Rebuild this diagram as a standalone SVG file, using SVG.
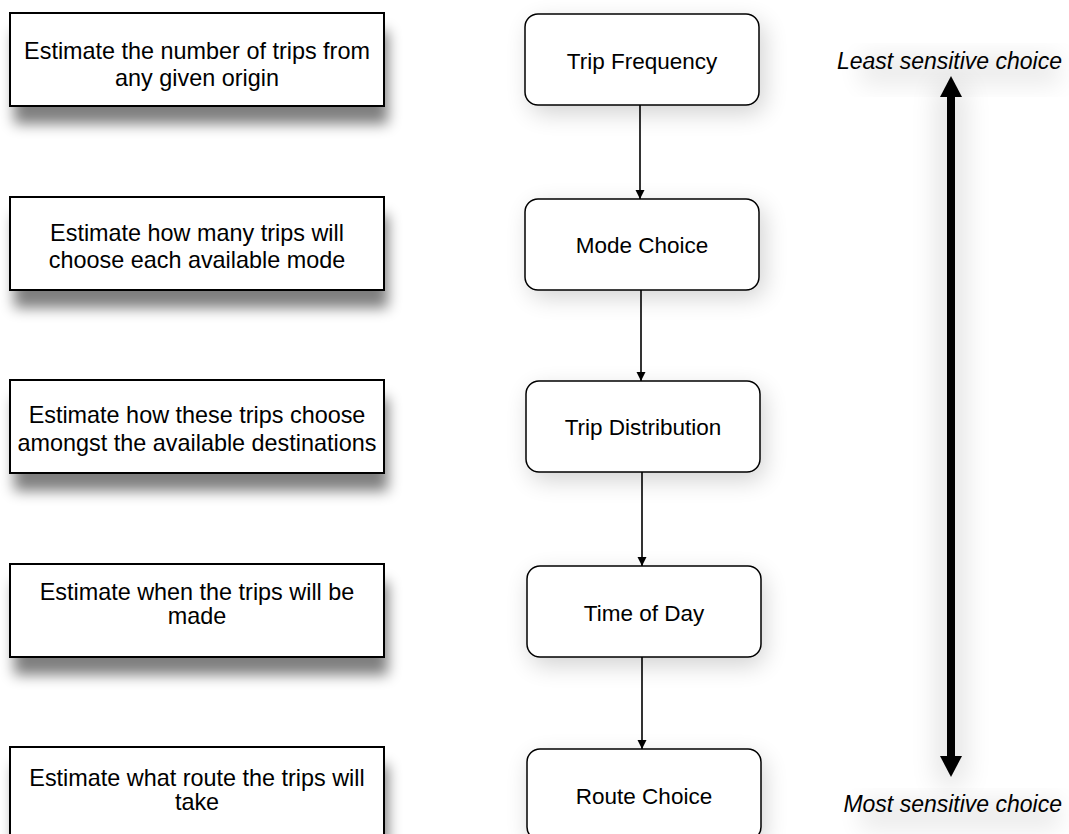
<svg xmlns="http://www.w3.org/2000/svg" width="1069" height="834" viewBox="0 0 1069 834">
<defs>
<style>
.lbox{fill:#fff;stroke:#000;stroke-width:2}
.rbox{fill:#fff;stroke:#000;stroke-width:1.5}
.lt{font-family:"Liberation Sans",Arial,sans-serif;font-size:23.4px;fill:#000;text-anchor:middle}
.rt{font-family:"Liberation Sans",Arial,sans-serif;font-size:22.5px;fill:#000;text-anchor:middle}
.it{font-family:"Liberation Sans",Arial,sans-serif;font-size:23px;font-style:italic;fill:#000;text-anchor:end}
.con{stroke:#000;stroke-width:1.6;fill:none;marker-end:url(#ah)}
</style>
<filter id="lsh" x="-20%" y="-30%" width="140%" height="180%">
<feGaussianBlur stdDeviation="7"/>
</filter>
<filter id="rsh" x="-30%" y="-40%" width="160%" height="180%">
<feGaussianBlur stdDeviation="12"/>
</filter>
<filter id="ash" x="-300%" y="-10%" width="700%" height="120%">
<feGaussianBlur stdDeviation="14"/>
</filter>
<marker id="ah" markerWidth="9" markerHeight="11" refX="9" refY="4.5" orient="auto" markerUnits="userSpaceOnUse" viewBox="0 0 9 9">
<path d="M0,0 L9,4.5 L0,9 Z" fill="#000"/>
</marker>
</defs>
<rect width="1069" height="834" fill="#fff"/>

<g id="shadows">
<rect x="14" y="31" width="374" height="93" fill="#000" opacity="0.5" filter="url(#lsh)"/>
<rect x="14" y="215" width="374" height="93" fill="#000" opacity="0.5" filter="url(#lsh)"/>
<rect x="14" y="398" width="374" height="93" fill="#000" opacity="0.5" filter="url(#lsh)"/>
<rect x="14" y="582" width="374" height="93" fill="#000" opacity="0.5" filter="url(#lsh)"/>
<rect x="14" y="765" width="374" height="93" fill="#000" opacity="0.5" filter="url(#lsh)"/>
<rect x="530" y="22" width="234" height="91" rx="13" fill="#000" opacity="0.18" filter="url(#rsh)"/>
<rect x="530" y="206" width="234" height="91" rx="13" fill="#000" opacity="0.18" filter="url(#rsh)"/>
<rect x="530" y="389" width="234" height="91" rx="13" fill="#000" opacity="0.18" filter="url(#rsh)"/>
<rect x="530" y="574" width="234" height="91" rx="13" fill="#000" opacity="0.18" filter="url(#rsh)"/>
<rect x="530" y="757" width="234" height="91" rx="13" fill="#000" opacity="0.18" filter="url(#rsh)"/>
<rect x="938" y="85" width="26" height="700" fill="#000" opacity="0.12" filter="url(#ash)"/>
<rect x="860" y="55" width="200" height="30" fill="#000" opacity="0.08" filter="url(#rsh)"/>
<rect x="860" y="800" width="200" height="30" fill="#000" opacity="0.08" filter="url(#rsh)"/>
</g>

<g id="desc1">
<rect class="lbox" x="10" y="13" width="374" height="93"/>
<text class="lt" x="197" y="59">Estimate the number of trips from</text>
<text class="lt" x="197" y="86">any given origin</text>
</g>
<g id="desc2">
<rect class="lbox" x="10" y="197" width="374" height="93"/>
<text class="lt" x="197" y="241">Estimate how many trips will</text>
<text class="lt" x="197" y="268">choose each available mode</text>
</g>
<g id="desc3">
<rect class="lbox" x="10" y="380" width="374" height="93"/>
<text class="lt" x="197" y="423">Estimate how these trips choose</text>
<text class="lt" x="197" y="450.5">amongst the available destinations</text>
</g>
<g id="desc4">
<rect class="lbox" x="10" y="564" width="374" height="93"/>
<text class="lt" x="197" y="600">Estimate when the trips will be</text>
<text class="lt" x="197" y="624">made</text>
</g>
<g id="desc5">
<rect class="lbox" x="10" y="747" width="374" height="93"/>
<text class="lt" x="197" y="786">Estimate what route the trips will</text>
<text class="lt" x="197" y="810">take</text>
</g>

<g id="tripFrequency">
<rect class="rbox" x="525" y="14" width="234" height="91" rx="13"/>
<text class="rt" x="642" y="69">Trip Frequency</text>
</g>
<g id="modeChoice">
<rect class="rbox" x="525" y="199" width="234" height="91" rx="13"/>
<text class="rt" x="642" y="253">Mode Choice</text>
</g>
<g id="tripDistribution">
<rect class="rbox" x="526" y="381" width="234" height="91" rx="13"/>
<text class="rt" x="643" y="435">Trip Distribution</text>
</g>
<g id="timeOfDay">
<rect class="rbox" x="527" y="566" width="234" height="91" rx="13"/>
<text class="rt" x="644" y="621">Time of Day</text>
</g>
<g id="routeChoice">
<rect class="rbox" x="527" y="749" width="234" height="91" rx="13"/>
<text class="rt" x="644" y="804">Route Choice</text>
</g>

<g id="sensitivity">
<text class="it" x="1062" y="69">Least sensitive choice</text>
<text class="it" x="1062" y="812">Most sensitive choice</text>
<rect x="947" y="94" width="8" height="664" fill="#000"/>
<path d="M951,76 L962,97 L940,97 Z" fill="#000"/>
<path d="M951,777 L962,756 L940,756 Z" fill="#000"/>
</g>

<g id="connectors">
<line class="con" x1="640" y1="105" x2="640" y2="199"/>
<line class="con" x1="641" y1="290" x2="641" y2="381"/>
<line class="con" x1="642" y1="472" x2="642" y2="566"/>
<line class="con" x1="642" y1="657" x2="642" y2="749"/>
</g>
</svg>
